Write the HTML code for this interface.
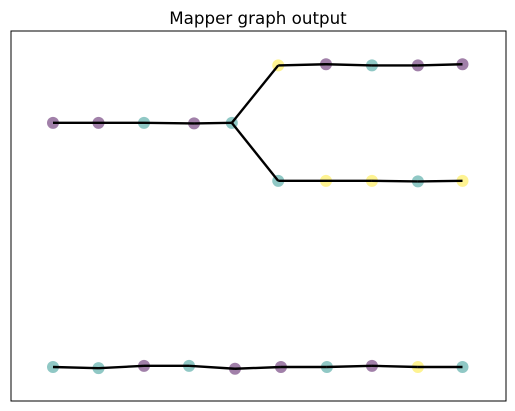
<!DOCTYPE html>
<html><head><meta charset="utf-8"><style>
body{margin:0;background:#fff;width:515px;height:411px;overflow:hidden}
svg{display:block}
</style></head><body>
<svg id="chart" width="515" height="411" xmlns="http://www.w3.org/2000/svg">
<rect x="0" y="0" width="515" height="411" fill="#fff"/>
<text x="258" y="24" text-anchor="middle" font-family="DejaVu Sans, Liberation Sans, sans-serif" font-size="16.7" fill="#000">Mapper graph output</text>
<rect x="11" y="31" width="495" height="370" fill="none" stroke="#000" stroke-width="1"/>
<g id="nodes"></g>
<g id="edges"></g>
</svg>
<script>
const nodeX = [0,1,2,3.1,3.93, 4.95,6.0,7.01,8.02,9.0, 4.95,6.0,7.01,8.02,9.0, 0,1,2.0,2.99,4.0,5.01,6.02,7.01,8.02,9.0];
const nodeY = [4.21,4.21,4.21,4.2,4.21, 5.2,5.22,5.2,5.2,5.22, 3.21,3.21,3.21,3.2,3.21, 0,-0.02,0.02,0.02,-0.03,0,0,0.02,0,0];
const nodeColor = ["p","p","t","p","t", "y","p","t","p","p", "t","y","y","t","y", "t","t","p","t","p","p","t","p","y","t"];
const edgeFrom = [0,1,2,3,4,5,6,7,8,4,10,11,12,13,15,16,17,18,19,20,21,22,23];
const edgeTo   = [1,2,3,4,5,6,7,8,9,10,11,12,13,14,16,17,18,19,20,21,22,23,24];
const palette = {p:"#440154", t:"#21918c", y:"#fde725"};
const xS = v => 53 + v*45.5;
const yS = v => 367 - v*58;
const NS = "http://www.w3.org/2000/svg";
const ng = document.getElementById('nodes'), eg = document.getElementById('edges');
for (let i=0;i<nodeX.length;i++){
  const c=document.createElementNS(NS,'circle');
  c.setAttribute('cx',xS(nodeX[i]));c.setAttribute('cy',yS(nodeY[i]));c.setAttribute('r',6);
  c.setAttribute('fill',palette[nodeColor[i]]);c.setAttribute('fill-opacity',0.5);
  
  
  ng.appendChild(c);
}
for (let i=0;i<edgeFrom.length;i++){
  const a=edgeFrom[i], b=edgeTo[i];
  const l=document.createElementNS(NS,'line');
  l.setAttribute('x1',xS(nodeX[a]));l.setAttribute('y1',yS(nodeY[a]));
  l.setAttribute('x2',xS(nodeX[b]));l.setAttribute('y2',yS(nodeY[b]));
  l.setAttribute('stroke','#000');l.setAttribute('stroke-width',2.4);
  
  
  eg.appendChild(l);
}
</script>
</body></html>
